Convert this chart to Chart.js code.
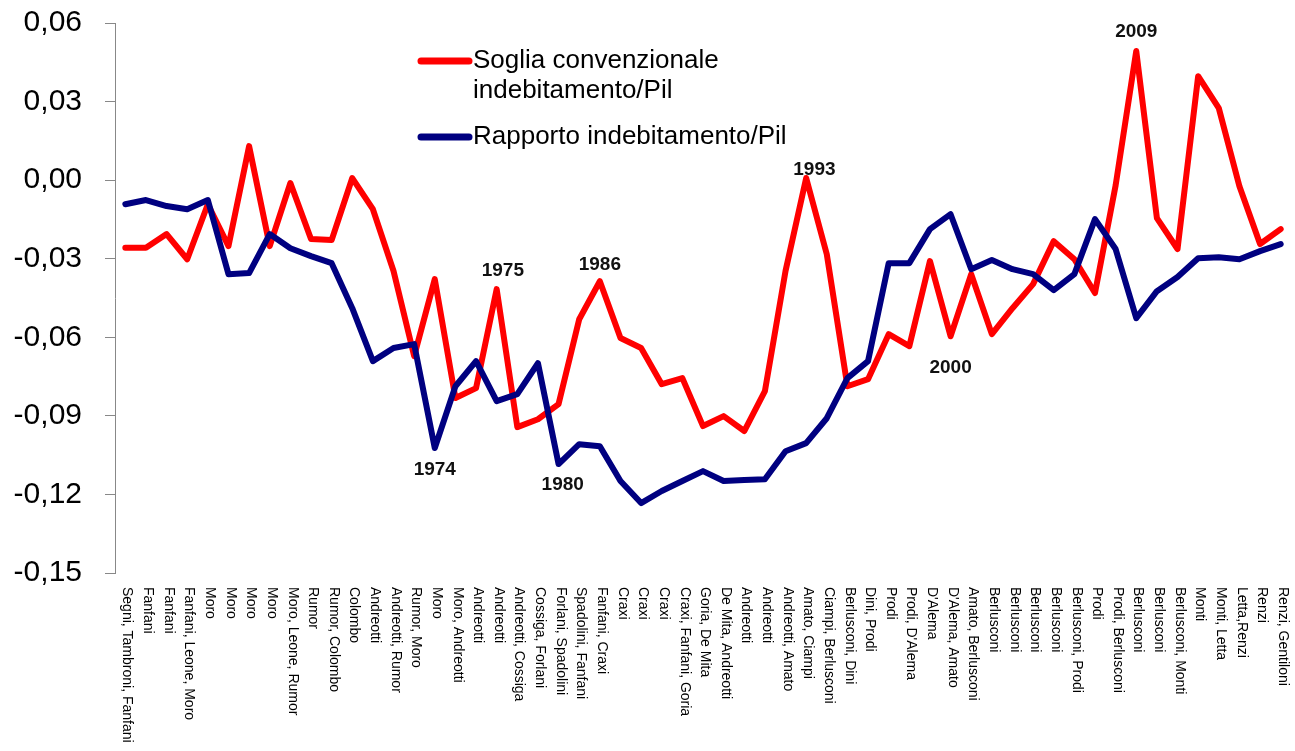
<!DOCTYPE html>
<html>
<head>
<meta charset="utf-8">
<script src="https://cdn.jsdelivr.net/npm/chart.js@4"></script>
<style>
  html, body { margin: 0; padding: 0; background: #fff; }
  #wrap { width: 1295px; height: 751px; position: relative; }
</style>
</head>
<body>
<div id="wrap"><canvas id="chart"></canvas></div>
<script>
const governi = [
  "Segni, Tambroni, Fanfani", "Fanfani", "Fanfani", "Fanfani, Leone, Moro", "Moro",
  "Moro", "Moro", "Moro", "Moro, Leone, Rumor", "Rumor",
  "Rumor, Colombo", "Colombo", "Andreotti", "Andreotti, Rumor", "Rumor, Moro",
  "Moro", "Moro, Andreotti", "Andreotti", "Andreotti", "Andreotti, Cossiga",
  "Cossiga, Forlani", "Forlani, Spadolini", "Spadolini, Fanfani", "Fanfani, Craxi", "Craxi",
  "Craxi", "Craxi", "Craxi, Fanfani, Goria", "Goria, De Mita", "De Mita, Andreotti",
  "Andreotti", "Andreotti", "Andreotti, Amato", "Amato, Ciampi", "Ciampi, Berlusconi",
  "Berlusconi, Dini", "Dini, Prodi", "Prodi", "Prodi, D'Alema", "D'Alema",
  "D'Alema, Amato", "Amato, Berlusconi", "Berlusconi", "Berlusconi", "Berlusconi",
  "Berlusconi", "Berlusconi, Prodi", "Prodi", "Prodi, Berlusconi", "Berlusconi",
  "Berlusconi", "Berlusconi, Monti", "Monti", "Monti, Letta", "Letta,Renzi",
  "Renzi", "Renzi, Gentiloni"
];

const soglia = [
  -0.0258, -0.0258, -0.0206, -0.0302, -0.0092,
  -0.0252, 0.0130, -0.0252, -0.0011, -0.0225,
  -0.0229, 0.0008, -0.0111, -0.0347, -0.0672,
  -0.0378, -0.0832, -0.0794, -0.0416, -0.0943,
  -0.0913, -0.0855, -0.0531, -0.0386, -0.0603,
  -0.0641, -0.0779, -0.0756, -0.0939, -0.0901,
  -0.0958, -0.0806, -0.0347, 0.0008, -0.0283,
  -0.0787, -0.0760, -0.0588, -0.0634, -0.0309,
  -0.0596, -0.0359, -0.0588, -0.0489, -0.0397,
  -0.0233, -0.0302, -0.0431, -0.0020, 0.0493,
  -0.0145, -0.0263, 0.0397, 0.0275, -0.0023,
  -0.0244, -0.0187
];

const rapporto = [
  -0.0092, -0.0076, -0.0099, -0.0111, -0.0076,
  -0.0359, -0.0355, -0.0206, -0.0260, -0.0290,
  -0.0317, -0.0489, -0.0691, -0.0641, -0.0626,
  -0.1023, -0.0787, -0.0691, -0.0844, -0.0817,
  -0.0699, -0.1084, -0.1008, -0.1016, -0.1149,
  -0.1233, -0.1187, -0.1149, -0.1111, -0.1149,
  -0.1145, -0.1142, -0.1035, -0.1004, -0.0909,
  -0.0756, -0.0691, -0.0317, -0.0317, -0.0187,
  -0.0130, -0.0340, -0.0305, -0.0340, -0.0359,
  -0.0420, -0.0359, -0.0149, -0.0263, -0.0527,
  -0.0424, -0.0370, -0.0298, -0.0294, -0.0302,
  -0.0271, -0.0244
];

// year labels placed at (category index, value)
const anni = [
  { text: "1974", index: 15, value: -0.1107 },
  { text: "1975", index: 18.3, value: -0.0347 },
  { text: "1980", index: 21.2, value: -0.1165 },
  { text: "1986", index: 23, value: -0.0325 },
  { text: "1993", index: 33.4, value: 0.0038 },
  { text: "2000", index: 40, value: -0.0718 },
  { text: "2009", index: 49, value: 0.0565 }
];

const RED = "#ff0000";
const NAVY = "#000080";
const FONT = "Arial, 'Liberation Sans', sans-serif";

const customDraw = {
  id: "customDraw",
  afterDraw(chart) {
    const { ctx, scales } = chart;
    const x = scales.x;
    const y = scales.y;

    // vertical category labels, reading top to bottom
    ctx.save();
    ctx.fillStyle = "#000";
    ctx.font = "14px " + FONT;
    ctx.textAlign = "left";
    ctx.textBaseline = "middle";
    governi.forEach((label, i) => {
      ctx.save();
      ctx.translate(x.getPixelForValue(i) + 2, x.top + 14);
      ctx.rotate(Math.PI / 2);
      ctx.fillText(label, 0, 0);
      ctx.restore();
    });
    ctx.restore();

    // year annotations
    ctx.save();
    ctx.fillStyle = "#111";
    ctx.font = "bold 19px " + FONT;
    ctx.textAlign = "center";
    ctx.textBaseline = "middle";
    anni.forEach((a) => {
      ctx.fillText(a.text, x.getPixelForValue(a.index), y.getPixelForValue(a.value));
    });
    ctx.restore();

    // legend
    const items = [
      { color: RED, lines: ["Soglia convenzionale", "indebitamento/Pil"], top: 61 },
      { color: NAVY, lines: ["Rapporto indebitamento/Pil"], top: 137 }
    ];
    ctx.save();
    ctx.font = "26px " + FONT;
    ctx.fillStyle = "#000";
    ctx.textAlign = "left";
    ctx.textBaseline = "middle";
    items.forEach((it) => {
      ctx.strokeStyle = it.color;
      ctx.lineWidth = 7;
      ctx.lineCap = "round";
      ctx.beginPath();
      ctx.moveTo(421, it.top);
      ctx.lineTo(469, it.top);
      ctx.stroke();
      it.lines.forEach((t, k) => {
        ctx.fillText(t, 473, it.top + k * 30);
      });
    });
    ctx.restore();
  }
};

new Chart(document.getElementById("chart"), {
  type: "line",
  data: {
    labels: governi,
    datasets: [
      {
        label: "Rapporto indebitamento/Pil",
        data: rapporto,
        borderColor: NAVY,
        borderWidth: 6,
        borderJoinStyle: "round",
        borderCapStyle: "round",
        pointRadius: 0,
        tension: 0,
        order: 0
      },
      {
        label: "Soglia convenzionale indebitamento/Pil",
        data: soglia,
        borderColor: RED,
        borderWidth: 6,
        borderJoinStyle: "round",
        borderCapStyle: "round",
        pointRadius: 0,
        tension: 0,
        order: 1
      }
    ]
  },
  options: {
    responsive: true,
    maintainAspectRatio: false,
    animation: false,
    layout: { padding: { top: 23, right: 4, bottom: 0, left: 0 } },
    plugins: {
      legend: { display: false },
      tooltip: { enabled: false }
    },
    scales: {
      x: {
        offset: true,
        ticks: { display: false },
        grid: { display: false },
        border: { display: false },
        afterFit: (s) => { s.height = 178; s.paddingLeft = 0; s.paddingRight = 0; }
      },
      y: {
        min: -0.15,
        max: 0.06,
        ticks: {
          stepSize: 0.03,
          padding: 23,
          color: "#000",
          font: { family: FONT, size: 30 },
          callback: (v) => (Math.round(v * 100) / 100).toFixed(2).replace(".", ",")
        },
        grid: {
          display: true,
          drawOnChartArea: false,
          drawTicks: true,
          tickLength: 10,
          color: "#888"
        },
        border: { display: true, color: "#888", width: 1 },
        afterFit: (s) => { s.width = 115; s.paddingTop = 0; s.paddingBottom = 0; }
      }
    }
  },
  plugins: [customDraw]
});
</script>
</body>
</html>
